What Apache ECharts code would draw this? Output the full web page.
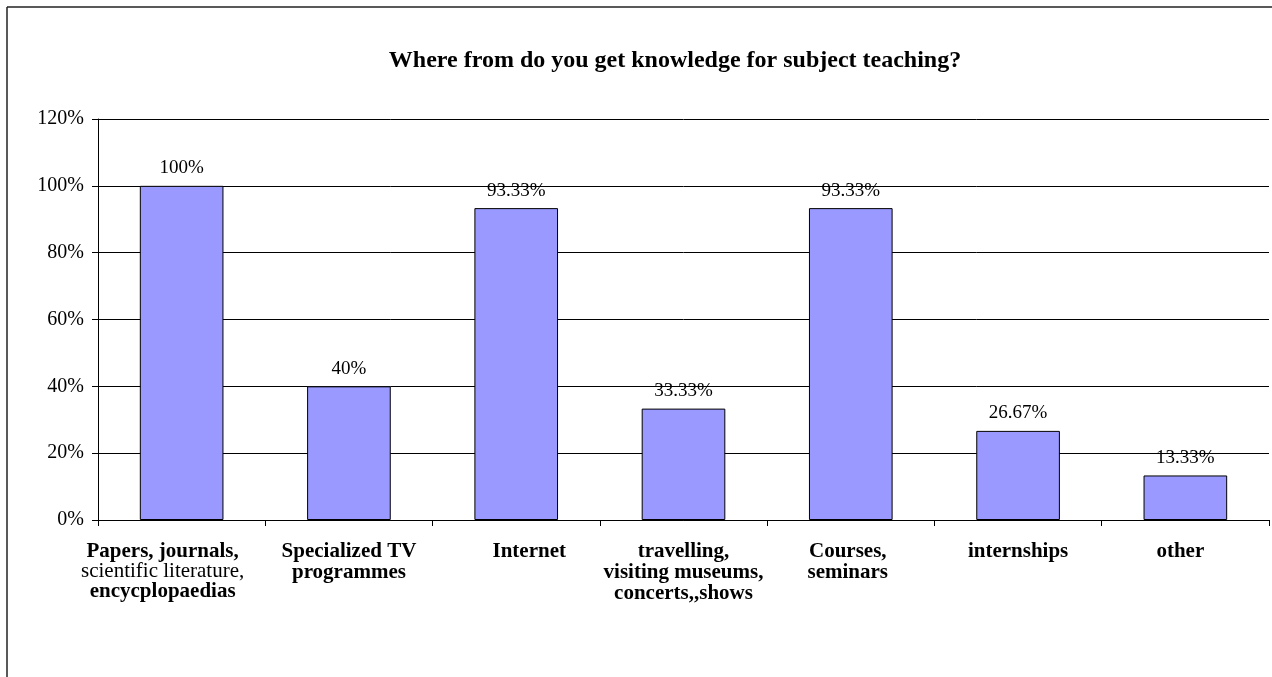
<!DOCTYPE html>
<html>
<head>
<meta charset="utf-8">
<script src="https://cdn.jsdelivr.net/npm/echarts@6/dist/echarts.min.js"></script>
<style>
  html, body { margin: 0; padding: 0; background: #fff; }
  #chart { width: 1272px; height: 677px; }
</style>
</head>
<body>
<div id="chart"></div>
<script>
// Survey question and answer categories
var titleText = 'Where from do you get knowledge for subject teaching?';
var categories = [
  'Papers, journals,\nscientific literature,\nencycplopaedias',
  'Specialized TV\nprogrammes',
  'Internet',
  'travelling,\nvisiting museums,\nconcerts,,shows',
  'Courses,\nseminars',
  'internships',
  'other'
];
// Lines of the category labels set in regular (not bold) weight
var regularLines = ['scientific literature,'];
// Share of respondents, in percent
var values = [100, 40, 93.33, 33.33, 93.33, 26.67, 13.33];
// Value labels shown above the bars
var valueLabels = ['100%', '40%', '93.33%', '33.33%', '93.33%', '26.67%', '13.33%'];
// Y axis ticks
var yTicks = [0, 20, 40, 60, 80, 100, 120];

var serif = '"Liberation Serif", "Times New Roman", serif';

// Horizontal nudge (px) of each category label relative to its slot centre
var labelNudge = [-19, 0, 13, 0, -3, 0, -5];

// One bold and one regular rich style per category, carrying its nudge as padding
var rich = {};
labelNudge.forEach(function (s, i) {
  var pad = s < 0 ? [0, -2 * s, 0, 0] : [0, 0, 0, 2 * s];
  rich['b' + i] = { fontFamily: serif, fontWeight: 'bold', fontSize: 21, color: '#000', lineHeight: 21, padding: pad };
  rich['r' + i] = { fontFamily: serif, fontWeight: 'normal', fontSize: 21, color: '#000', lineHeight: 19, padding: pad };
});

var chart = echarts.init(document.getElementById('chart'), null, { renderer: 'canvas' });

chart.setOption({
  animation: false,
  backgroundColor: '#fff',
  title: {
    text: titleText,
    left: 670,
    top: 44,
    textAlign: 'center',
    textStyle: { fontFamily: serif, fontWeight: 'bold', fontSize: 24, color: '#000' }
  },
  grid: { left: 98, right: 3, top: 119, bottom: 157, containLabel: false },
  xAxis: {
    type: 'category',
    data: categories,
    axisLine: { lineStyle: { color: '#000', width: 1 } },
    axisTick: { show: true, length: 6, lineStyle: { color: '#000' } },
    axisLabel: {
      interval: 0,
      margin: 21,
      fontFamily: serif,
      fontSize: 21,
      color: '#000',
      lineHeight: 21,
      formatter: function (v, idx) {
        return v.split('\n').map(function (line) {
          return '{' + (regularLines.indexOf(line) >= 0 ? 'r' : 'b') + idx + '|' + line + '}';
        }).join('\n');
      },
      rich: rich
    }
  },
  yAxis: {
    type: 'value',
    min: yTicks[0],
    max: yTicks[yTicks.length - 1],
    interval: yTicks[1] - yTicks[0],
    axisLine: { show: true, lineStyle: { color: '#000', width: 1 } },
    axisTick: { show: true, length: 6, lineStyle: { color: '#000' } },
    axisLabel: {
      margin: 14,
      fontFamily: serif,
      fontSize: 20,
      color: '#000',
      formatter: '{value}%'
    },
    splitLine: { show: true, lineStyle: { color: '#000', width: 1 } }
  },
  series: [{
    type: 'bar',
    data: values,
    barCategoryGap: '50%',
    itemStyle: { color: '#9999FF', borderColor: '#000', borderWidth: 1 },
    label: {
      show: true,
      position: 'top',
      distance: 8,
      fontFamily: serif,
      fontSize: 19,
      color: '#000',
      formatter: function (p) { return valueLabels[p.dataIndex]; }
    }
  }],
  graphic: [
    { type: 'line', shape: { x1: 7, y1: 7, x2: 1272, y2: 7 }, style: { stroke: '#222', lineWidth: 1.5 } },
    { type: 'line', shape: { x1: 7, y1: 7, x2: 7, y2: 677 }, style: { stroke: '#222', lineWidth: 1.5 } }
  ]
});
</script>
</body>
</html>
